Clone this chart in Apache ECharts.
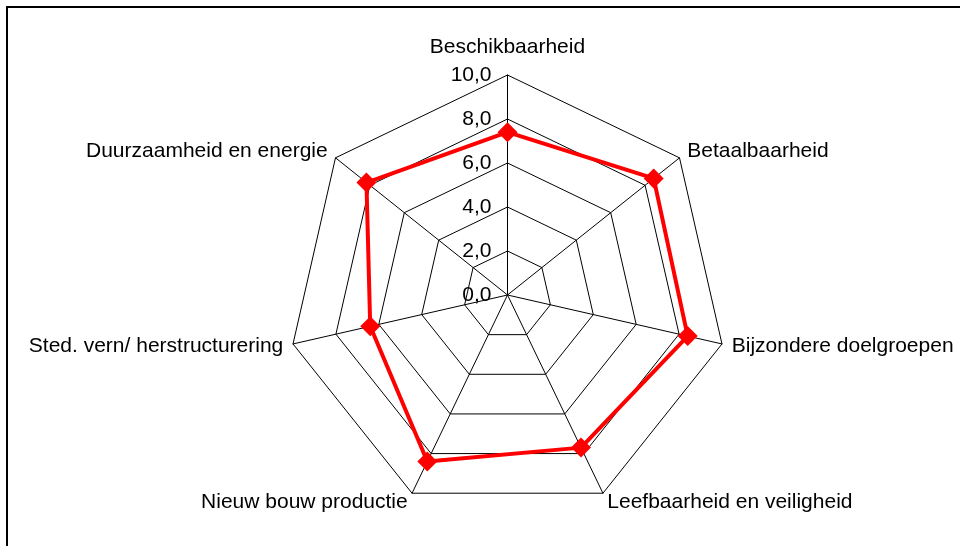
<!DOCTYPE html>
<html>
<head>
<meta charset="utf-8">
<script src="https://cdn.jsdelivr.net/npm/echarts@6/dist/echarts.min.js"></script>
<style>
  html, body { margin: 0; padding: 0; background: #fff; }
  #chart { position: absolute; left: 0; top: 0; width: 960px; height: 546px; }
  .frame {
    position: absolute; left: 6px; top: 6px; width: 1000px; height: 600px;
    border-left: 2px solid #000; border-top: 2px solid #000;
  }
</style>
</head>
<body>
<div class="frame"></div>
<div id="chart"></div>
<script>
// thema's in de radar, met de klok mee vanaf boven
const themes = [
  'Beschikbaarheid',
  'Betaalbaarheid',
  'Bijzondere doelgroepen',
  'Leefbaarheid en veiligheid',
  'Nieuw bouw productie',
  'Sted. vern/ herstructurering',
  'Duurzaamheid en energie'
]
const scores = [7.4, 8.5, 8.4, 7.7, 8.4, 6.4, 8.2]
const maxScore = 10

let chart = echarts.init(document.getElementById('chart'))

// echarts tekent tegen de klok in, dus volgorde omdraaien (eerste blijft boven)
let order = [0].concat(themes.map((t, i) => i).slice(1).reverse())

let indicators = order.map(i => {
  let ind = { name: themes[i], max: maxScore, min: 0 }
  // alleen de bovenste as krijgt labels
  if (i === 0) ind.axisLabel = { show: true }
  return ind
})

const font = 'Liberation Sans, Arial, sans-serif'

chart.setOption({
  animation: false,
  textStyle: { fontFamily: font },
  radar: {
    center: [507.5, 295],
    radius: 220,
    startAngle: 90,
    splitNumber: 5,
    shape: 'polygon',
    indicator: indicators,
    nameGap: 10,
    axisName: {
      color: '#000',
      fontSize: 21,
      fontFamily: font,
      // bovenste naam staat iets hoger
      formatter: name => name === themes[0] ? '{top|' + name + '}' : name,
      rich: {
        top: { color: '#000', fontSize: 21, fontFamily: font, padding: [0, 0, 7, 0] }
      }
    },
    axisLine: { lineStyle: { color: '#000', width: 1 } },
    splitLine: { lineStyle: { color: '#000', width: 1 } },
    splitArea: { show: false },
    axisTick: { show: false },
    axisLabel: {
      show: false,
      color: '#000',
      fontSize: 21,
      margin: 16,
      formatter: v => v.toFixed(1).replace('.', ',')
    }
  },
  series: [{
    type: 'radar',
    symbol: 'diamond',
    symbolSize: 20,
    lineStyle: { color: '#ff0000', width: 4 },
    itemStyle: { color: '#ff0000' },
    data: [{ value: order.map(i => scores[i]), name: 'Score' }]
  }]
})
</script>
</body>
</html>
